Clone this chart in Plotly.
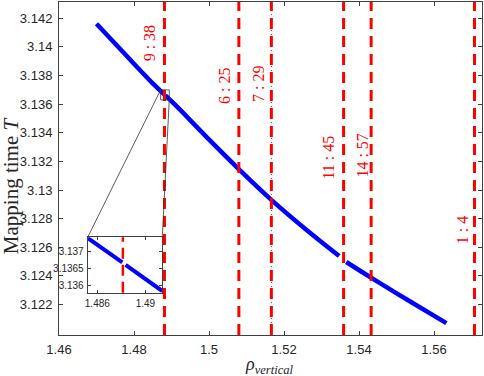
import math
import plotly.graph_objects as go

# ---------------- data ----------------
rho = [1.4700, 1.4780, 1.4852, 1.48808, None, 1.48835, 1.4914, 1.4995, 1.5080, 1.5167,
       1.5257, 1.5347, None, 1.5366, 1.5432, 1.5532, 1.5633]
T = [3.14162, 3.13938, 3.13740, 3.13668, None, 3.13661, 3.13584, 3.13366, 3.13145, 3.12930,
     3.12728, 3.12539, None, 3.12497, 3.12388, 3.12228, 3.12070]

res_p = [9, 6, 7, 11, 14, 1]
res_q = [38, 25, 29, 45, 57, 4]
res_labels = ["9 : 38", "6 : 25", "7 : 29", "11 : 45", "14 : 57", "1 : 4"]

x_tickvals = [1.46, 1.48, 1.50, 1.52, 1.54, 1.56]
x_ticktext = ["1.46", "1.48", "1.5", "1.52", "1.54", "1.56"]
y_tickvals = [3.122, 3.124, 3.126, 3.128, 3.130, 3.132, 3.134, 3.136, 3.138, 3.140, 3.142]
y_ticktext = ["3.122", "3.124", "3.126", "3.128", "3.13", "3.132", "3.134", "3.136",
              "3.138", "3.14", "3.142"]

inset_x_tickvals = [1.486, 1.49]
inset_x_ticktext = ["1.486", "1.49"]
inset_y_tickvals = [3.136, 3.1365, 3.137]
inset_y_ticktext = ["3.136", "3.1365", "3.137"]

# ---------------- layout constants ----------------
XR = [1.46, 1.5728]
YR = [3.11987, 3.14314]
INSET_XR = [1.4852, 1.4914]
INSET_YR = [3.13579, 3.13742]
ZOOM_BOX = dict(x0=1.4871, x1=1.4894, y0=3.1363, y1=3.1370)
INSET_DOM_X = [0.0678, 0.2442]
INSET_DOM_Y = [0.127, 0.2934]

res_rho = [2 * math.pi * p / q for p, q in zip(res_p, res_q)]

RED = "#ff0000"
BLUE = "#0000ff"
AX = "#404040"
TXT = "#262626"
SANS = "Liberation Sans, Arial, sans-serif"
SERIF = "Liberation Serif, Times New Roman, serif"

fig = go.Figure()

# main curve
fig.add_trace(go.Scatter(x=rho, y=T, mode="lines",
                         line=dict(color=BLUE, width=4.5, shape="spline", smoothing=1.0),
                         showlegend=False, hoverinfo="skip"))

# inset curve (same data restricted to inset range)
ix, iy = [], []
for a, b in zip(rho, T):
    if a is None:
        ix.append(None); iy.append(None)
    elif INSET_XR[0] - 1e-9 <= a <= INSET_XR[1] + 1e-9:
        ix.append(a); iy.append(b)
fig.add_trace(go.Scatter(x=ix, y=iy, mode="lines", line=dict(color=BLUE, width=4),
                         xaxis="x2", yaxis="y2", showlegend=False, hoverinfo="skip"))

shapes = []
# resonance lines
for r, lab in zip(res_rho, res_labels):
    if lab == "7 : 29":
        shapes.append(dict(type="line", xref="x", yref="y domain", x0=r, x1=r, y0=0, y1=1,
                           line=dict(color=RED, width=1, dash="1px,3px"), layer="above"))
    shapes.append(dict(type="line", xref="x", yref="y domain", x0=r, x1=r, y0=0, y1=1,
                       line=dict(color=RED, width=3, dash="11px,7px"), layer="above"))

# inset resonance line
for r in res_rho:
    if INSET_XR[0] <= r <= INSET_XR[1]:
        shapes.append(dict(type="line", xref="x2", yref="y2 domain", x0=r, x1=r, y0=0, y1=1,
                           line=dict(color=RED, width=2.5, dash="11px,6px"), layer="above"))

# zoom box in main axes
shapes.append(dict(type="rect", xref="x", yref="y", x0=ZOOM_BOX["x0"], x1=ZOOM_BOX["x1"],
                   y0=ZOOM_BOX["y0"], y1=ZOOM_BOX["y1"], line=dict(color="#333333", width=0.8),
                   layer="above"))


def to_paper_x(v):
    return (v - XR[0]) / (XR[1] - XR[0])


def to_paper_y(v):
    return (v - YR[0]) / (YR[1] - YR[0])


# connector lines
shapes.append(dict(type="line", xref="paper", yref="paper",
                   x0=to_paper_x(ZOOM_BOX["x0"]), y0=to_paper_y(ZOOM_BOX["y1"]),
                   x1=INSET_DOM_X[0], y1=INSET_DOM_Y[1], line=dict(color="#333333", width=0.8)))
shapes.append(dict(type="line", xref="paper", yref="paper",
                   x0=to_paper_x(ZOOM_BOX["x1"]), y0=to_paper_y(ZOOM_BOX["y0"]),
                   x1=INSET_DOM_X[1], y1=INSET_DOM_Y[1], line=dict(color="#333333", width=0.8)))

# resonance labels
label_pos = {
    "9 : 38": (1.48422, 3.14024),
    "6 : 25": (1.50398, 3.13727),
    "7 : 29": (1.51306, 3.13741),
    "11 : 45": (1.53175, 3.13227),
    "14 : 57": (1.54096, 3.13238),
    "1 : 4": (1.56766, 3.12717),
}
annotations = []
for lab in res_labels:
    px, py = label_pos[lab]
    annotations.append(dict(x=px, y=py, xref="x", yref="y", text=lab, showarrow=False,
                            textangle=-90, xanchor="center", yanchor="middle",
                            font=dict(family=SERIF, size=16, color=RED)))

annotations.append(dict(x=-0.1135, y=0.45, xref="paper", yref="paper",
                        text="Mapping time <i>T</i>", showarrow=False, textangle=-90,
                        xanchor="center", yanchor="middle",
                        font=dict(family=SERIF, size=21, color=TXT)))
annotations.append(dict(x=0.4988, y=-0.091, xref="paper", yref="paper",
                        text="<i>ρ</i><sub><i>vertical</i></sub>", showarrow=False,
                        xanchor="center", yanchor="middle",
                        font=dict(family=SERIF, size=18, color=TXT)))

axis_common = dict(showgrid=False, zeroline=False, showline=True, linecolor=AX, linewidth=1,
                   mirror="ticks", ticks="inside", tickcolor=AX, ticklen=4, tickwidth=1,
                   automargin=False, tickfont=dict(family=SANS, size=13, color=TXT))

inset_common = dict(showgrid=False, zeroline=False, showline=True, linecolor=AX, linewidth=1,
                    mirror="ticks", ticks="inside", tickcolor=AX, ticklen=3, automargin=False,
                    tickfont=dict(family=SANS, size=10, color=TXT), ticklabelstandoff=1)

fig.update_layout(
    width=484, height=376,
    margin=dict(l=59, r=2, t=2, b=41, autoexpand=False),
    paper_bgcolor="white", plot_bgcolor="white",
    showlegend=False,
    xaxis=dict(range=XR, tickvals=x_tickvals, ticktext=x_ticktext, domain=[0, 1],
               ticklabelstandoff=2, **axis_common),
    yaxis=dict(range=YR, tickvals=y_tickvals, ticktext=y_ticktext, domain=[0, 1],
               ticklabelstandoff=3, **axis_common),
    xaxis2=dict(range=INSET_XR, tickvals=inset_x_tickvals, ticktext=inset_x_ticktext,
                domain=INSET_DOM_X, anchor="y2", **inset_common),
    yaxis2=dict(range=INSET_YR, tickvals=inset_y_tickvals, ticktext=inset_y_ticktext,
                domain=INSET_DOM_Y, anchor="x2", **inset_common),
    shapes=shapes,
    annotations=annotations,
)

fig.write_html("out.html", config={"displayModeBar": False, "staticPlot": True},
               post_script="document.body.style.margin='0';document.body.style.padding='0';")
